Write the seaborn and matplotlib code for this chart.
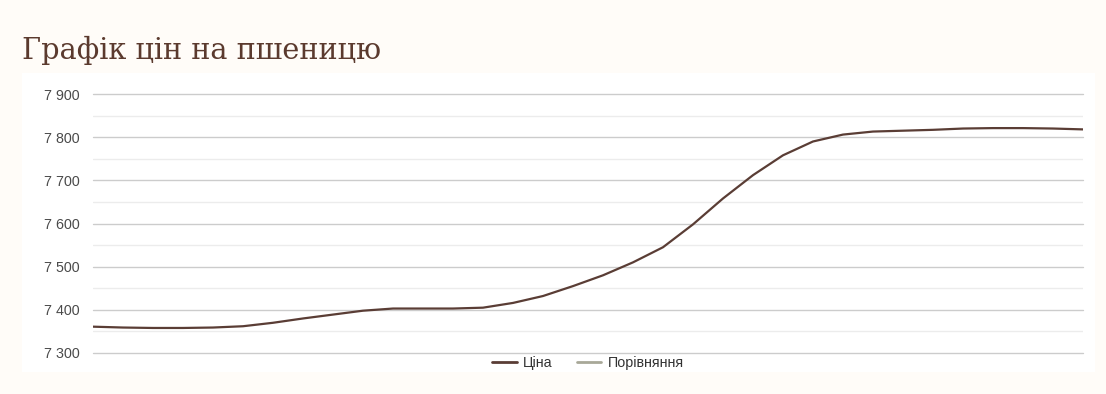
import matplotlib
matplotlib.use("Agg")
import matplotlib.pyplot as plt
from matplotlib.lines import Line2D
from matplotlib.patches import Rectangle
from matplotlib.ticker import FuncFormatter, FixedLocator
import seaborn as sns
import pandas as pd

title = "Графік цін на пшеницю"
series_price = "Ціна"
series_compare = "Порівняння"
price = [7361, 7359, 7358, 7358, 7359, 7362, 7370, 7380, 7389, 7398,
         7403, 7403, 7403, 7405, 7416, 7432, 7455, 7480, 7510, 7545,
         7598, 7658, 7712, 7758, 7790, 7806, 7813, 7815, 7817, 7820,
         7821, 7821, 7820, 7818]
compare = []
y_ticks = [7300, 7400, 7500, 7600, 7700, 7800, 7900]
y_minor = [7350, 7450, 7550, 7650, 7750, 7850]

sns.set_theme(style="white")
plt.rcParams['font.family'] = ['Liberation Sans', 'DejaVu Sans']

W, H = 1106, 394
fig = plt.figure(figsize=(W / 100, H / 100), dpi=100)
fig.patch.set_facecolor("#fffcf8")
fig.patches.append(Rectangle((22 / W, 1 - 372 / H), (1095 - 22) / W, (372 - 73) / H,
                             transform=fig.transFigure, facecolor="white",
                             edgecolor="none", zorder=-5))

ax = fig.add_axes([93 / W, 1 - 353 / H, (1083 - 93) / W, (353 - 94) / H])
ax.set_zorder(2)
ax.set_facecolor("none")

df = pd.DataFrame({"i": range(len(price)), "v": price})
sns.lineplot(data=df, x="i", y="v", ax=ax, color="#5a3d35", linewidth=1.6)

ax.set_xlim(0, len(price) - 1)
ax.set_ylim(y_ticks[0], y_ticks[-1])
ax.set_yticks(y_ticks)
ax.yaxis.set_minor_locator(FixedLocator(y_minor))
ax.yaxis.set_major_formatter(FuncFormatter(lambda v, p: f"{int(v):,}".replace(",", " ")))
ax.grid(True, which="major", axis="y", color="#cccccc", linewidth=1, clip_on=False)
ax.grid(True, which="minor", axis="y", color="#ececec", linewidth=1)
ax.set_axisbelow(True)
ax.set_xticks([])
ax.set_xlabel("")
ax.set_ylabel("")
for s in ax.spines.values():
    s.set_visible(False)
ax.tick_params(axis="y", which="both", length=0, labelsize=10.3,
               labelcolor="#4a4a4a", pad=9.5)

handles = [Line2D([], [], color="#5a3d35", lw=2),
           Line2D([], [], color="#a8a898", lw=2)]
fig.legend(handles, [series_price, series_compare], loc="center",
           bbox_to_anchor=(588 / W, 1 - 363 / H), ncol=2, frameon=False,
           fontsize=10.3, handlelength=1.7, handletextpad=0.45, columnspacing=1.7,
           labelcolor="#333333")

fig.text(22 / W, 1 - 50 / H, title, family=["DejaVu Serif"],
         fontsize=20.7, color="#5b3a2e", va="center", ha="left")

fig.savefig("out.png", dpi=100, facecolor=fig.get_facecolor())
